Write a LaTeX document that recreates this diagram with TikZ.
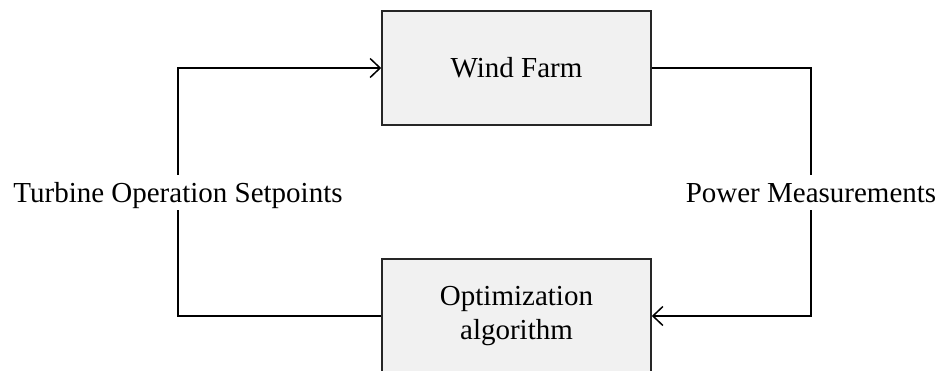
\documentclass[tikz,border=0pt]{standalone}
\usepackage{fontspec}
\setmainfont{Liberation Serif}
\usetikzlibrary{arrows.meta}

\definecolor{boxfill}{HTML}{F1F1F1}
\definecolor{boxline}{HTML}{262626}

\tikzset{
  block/.style={draw=boxline, line width=1.6pt, fill=boxfill,
    minimum width=269pt, minimum height=114pt, inner sep=0pt,
    align=center, font=\fontsize{29}{33.5}\selectfont},
  signal/.style={line width=1.6pt, black},
  tip/.style={-{Straight Barb[length=10pt,width=19pt,line width=1.5pt]}},
  sig label/.style={anchor=base, inner xsep=0pt, inner ysep=7pt,
    text height=21pt, text depth=0pt, font=\fontsize{29}{33.5}\selectfont}
}

\begin{document}
\begin{tikzpicture}[x=1pt, y=-1pt]
  \useasboundingbox (0,0) rectangle (942,371);

  % controller and plant
  \node[block] (farm) at (516.5,68) {Wind Farm};
  \node[block] (opt) at (516.5,316) {Optimization\\algorithm};

  % loop labels
  \node[sig label] (setp) at (178,203) {Turbine Operation Setpoints};
  \node[sig label] (meas) at (811,203) {Power Measurements};

  % feedback loop
  \draw[signal] (opt.west) -| (setp.south);
  \draw[signal, tip] (setp.north) |- (farm.west);
  \draw[signal] (farm.east) -| (meas.north);
  \draw[signal, tip] (meas.south) |- (opt.east);
\end{tikzpicture}
\end{document}
